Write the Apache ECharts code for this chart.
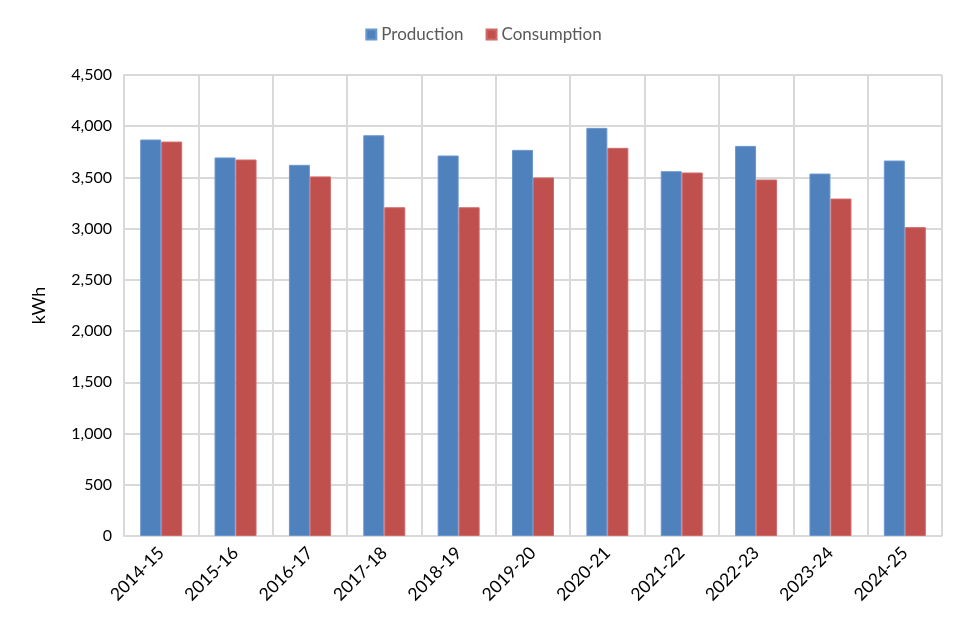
<!DOCTYPE html>
<html>
<head>
<meta charset="utf-8">
<script src="https://cdn.jsdelivr.net/npm/echarts@6/dist/echarts.min.js"></script>
<style>html,body{margin:0;padding:0;background:#fff;}#c{width:967px;height:625px;}</style>
</head>
<body>
<div id="c"></div>
<script>
var categories = ['2014-15','2015-16','2016-17','2017-18','2018-19','2019-20','2020-21','2021-22','2022-23','2023-24','2024-25'];
var production = [3870, 3695, 3623, 3912, 3714, 3769, 3984, 3561, 3808, 3538, 3665];
var consumption = [3850, 3675, 3510, 3209, 3209, 3500, 3789, 3548, 3480, 3294, 3015];
var yTicks = {min: 0, max: 4500, interval: 500};

var chart = echarts.init(document.getElementById('c'));
var font = 'Lato, "Open Sans", sans-serif';
chart.setOption({
  animation: false,
  textStyle: {fontFamily: font},
  legend: {
    top: 21, left: 'center',
    icon: 'rect',
    itemWidth: 10, itemHeight: 10, itemGap: 22,
    textStyle: {fontFamily: font, fontSize: 17, color: '#595959'},
    data: ['Production', 'Consumption']
  },
  grid: {left: 124, right: 25, top: 75, bottom: 89, show: true, borderColor: '#d9d9d9', borderWidth: 1},
  xAxis: {
    type: 'category',
    data: categories,
    axisLine: {lineStyle: {color: '#d9d9d9', width: 1}},
    axisTick: {show: false},
    splitLine: {show: true, lineStyle: {color: '#d9d9d9', width: 2}},
    axisLabel: {rotate: 45, fontSize: 17.5, color: '#000', fontFamily: font, margin: 14}
  },
  yAxis: {
    type: 'value',
    min: yTicks.min, max: yTicks.max, interval: yTicks.interval,
    name: 'kWh', nameLocation: 'middle', nameGap: 76,
    nameTextStyle: {fontSize: 18, color: '#000', fontFamily: font},
    axisLine: {show: true, lineStyle: {color: '#d9d9d9', width: 2}},
    axisTick: {show: false},
    splitLine: {lineStyle: {color: '#d9d9d9', width: 2}},
    axisLabel: {fontSize: 16, color: '#000', fontFamily: font, margin: 12,
      formatter: function (v) { return v.toLocaleString('en-US'); }}
  },
  series: [
    {name: 'Production', type: 'bar', data: production, barWidth: 21, barGap: '0%',
     itemStyle: {color: '#4f81bd', borderColor: '#6b97cf', borderWidth: 1}},
    {name: 'Consumption', type: 'bar', data: consumption, barWidth: 21,
     itemStyle: {color: '#c0504d', borderColor: '#d06a67', borderWidth: 1}}
  ]
});
</script>
</body>
</html>
